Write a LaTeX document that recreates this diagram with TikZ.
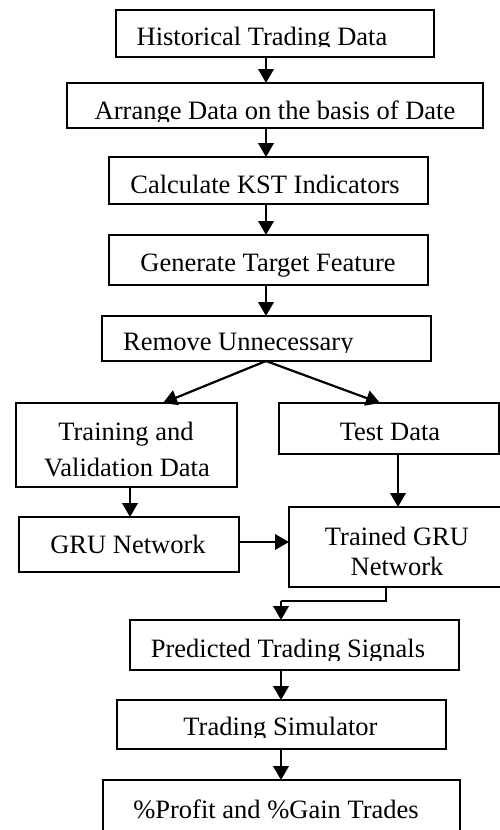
\documentclass[tikz,border=0pt]{standalone}
\usepackage{fontspec}
\setmainfont{Liberation Serif}
\usetikzlibrary{arrows.meta}
\begin{document}
\begin{tikzpicture}[x=1pt,y=-1pt,
  box/.style={draw, line width=1.6pt, rectangle, inner sep=0pt, outer sep=0pt},
  lbl/.style={anchor=base, inner sep=0pt, font=\fontsize{26.5}{30}\selectfont},
  arr/.style={line width=2.2pt, -{Triangle[length=14pt,width=15.5pt]}},
  wire/.style={line width=1.8pt}]
\useasboundingbox (0,0) rectangle (500,830);

% boxes
\node[box, minimum width=318pt, minimum height=47pt] (b1) at (275,33.5) {};
\node[box, minimum width=416pt, minimum height=45pt] (b2) at (275,105.5) {};
\node[box, minimum width=319pt, minimum height=47pt] (b3) at (268.5,180.5) {};
\node[box, minimum width=319pt, minimum height=50pt] (b4) at (268.5,260) {};
\node[box, minimum width=329pt, minimum height=45pt] (b5) at (266.5,338.5) {};
\node[box, minimum width=221pt, minimum height=84pt] (b6) at (126.5,445) {};
\node[box, minimum width=220pt, minimum height=51pt] (b7) at (389,428.5) {};
\node[box, minimum width=220pt, minimum height=55pt] (b8) at (129,544.5) {};
\node[box, minimum width=216pt, minimum height=80pt] (b9) at (397,547) {};
\node[box, minimum width=329pt, minimum height=50pt] (b10) at (294.5,645) {};
\node[box, minimum width=329pt, minimum height=49pt] (b11) at (281.5,724.5) {};
\node[box, minimum width=357pt, minimum height=60pt] (b12) at (281.5,810) {};

% labels
\begin{scope}
  \clip (0,0) rectangle (500,46.5);
  \node[lbl] (t1) at (262,45) {Historical Trading Data};
\end{scope}
\begin{scope}
  \clip (0,60) rectangle (500,121.5);
  \node[lbl] (t2) at (275,119.5) {Arrange Data on the basis of Date};
\end{scope}
\node[lbl] (t3) at (265,193) {Calculate KST Indicators};
\node[lbl] (t4) at (268,271) {Generate Target Feature};
\begin{scope}
  \clip (0,320) rectangle (500,352);
  \node[lbl, anchor=base west] (t5) at (123,350) {Remove Unnecessary};
\end{scope}
\node[lbl] (t6a) at (126,440) {Training and};
\node[lbl] (t6b) at (127,476) {Validation Data};
\node[lbl] (t7) at (390,440) {Test Data};
\node[lbl] (t8) at (128,553) {GRU Network};
\node[lbl] (t9a) at (397,545) {Trained GRU};
\node[lbl] (t9b) at (397,575) {Network};
\begin{scope}
  \clip (0,625) rectangle (500,660);
  \node[lbl] (t10) at (288,657) {Predicted Trading Signals};
\end{scope}
\begin{scope}
  \clip (0,705) rectangle (500,737.5);
  \node[lbl] (t11) at (280.5,735) {Trading Simulator};
\end{scope}
\node[lbl] (t12) at (276,818) {\%Profit and \%Gain Trades};

% connector columns
\coordinate (cmain) at (266,0);
\coordinate (cleft) at (163,0);
\coordinate (cright) at (380,0);
\coordinate (cgru) at (130,0);
\coordinate (ctest) at (398,0);
\coordinate (cout) at (386,0);
\coordinate (clow) at (281,0);
\coordinate (rowgru) at (0,542);
\coordinate (bend) at (0,601);

% connectors
\draw[arr] (b1.south -| cmain) -- (b2.north -| cmain);
\draw[arr] (b2.south -| cmain) -- (b3.north -| cmain);
\draw[arr] (b3.south -| cmain) -- (b4.north -| cmain);
\draw[arr] (b4.south -| cmain) -- (b5.north -| cmain);
\draw[arr] (b5.south -| cmain) -- (b6.north -| cleft);
\draw[arr] (b5.south -| cmain) -- (b7.north -| cright);
\draw[arr] (b6.south -| cgru) -- (b8.north -| cgru);
\draw[arr] (b7.south -| ctest) -- (b9.north -| ctest);
\draw[arr] (b8.east |- rowgru) -- (b9.west |- rowgru);
\draw[wire] (b9.south -| cout) -- (bend -| cout) -- (bend -| clow);
\draw[arr] (bend -| clow) -- (b10.north -| clow);
\draw[arr] (b10.south -| clow) -- (b11.north -| clow);
\draw[arr] (b11.south -| clow) -- (b12.north -| clow);
\end{tikzpicture}
\end{document}
